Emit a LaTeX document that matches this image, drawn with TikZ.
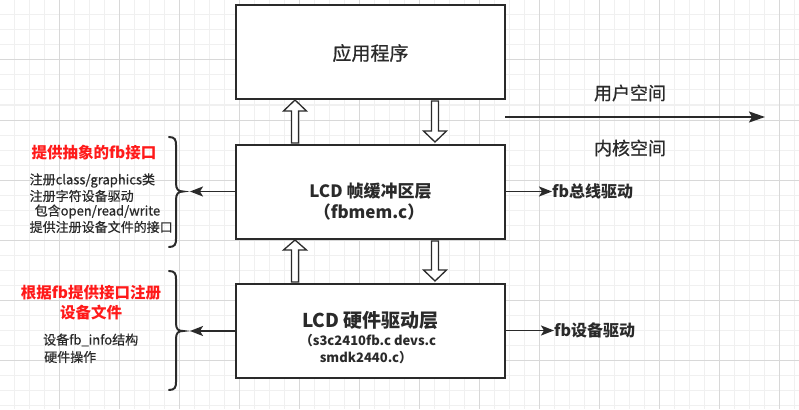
\documentclass[tikz,border=0pt]{standalone}
\usepackage{fontspec}
\setmainfont{Noto Sans CJK SC}
\newfontfamily\medfont{Noto Sans CJK SC}[FakeBold=0.6]
\usetikzlibrary{arrows.meta,calc}
\definecolor{ink}{HTML}{2A2A2A}
\definecolor{gridmin}{HTML}{F0F0F0}
\definecolor{gridmaj}{HTML}{D8D8D8}
\definecolor{redtxt}{HTML}{FF1A1A}
\newcommand\fs[1]{\fontsize{#1}{#1}\selectfont}
\begin{document}
\begin{tikzpicture}[x=1pt,y=-1pt,
  box/.style={draw=ink, line width=2pt, fill=white, minimum width=269pt, minimum height=94pt, inner sep=0pt},
  hollow/.style={draw=ink, line width=1.3pt, fill=white, line join=miter},
  link/.style={draw=ink, line width=1.8pt, -{Stealth[length=13pt,width=10pt,inset=3pt]}},
  brace/.style={draw=ink, line width=2pt, line cap=round},
  lbl/.style={inner sep=0pt, text=ink},
]
\useasboundingbox (0,0) rectangle (799,409);
\fill[white] (0,0) rectangle (799,409);
% grid
\foreach \i in {0,...,53} \draw[gridmin, line width=1pt] ({\i*15-0.5},0) -- ({\i*15-0.5},409);
\foreach \j in {0,...,27} \draw[gridmin, line width=1pt] (0,{\j*15}) -- (799,{\j*15});
\foreach \i in {1,...,13} \draw[gridmaj, line width=1pt] ({\i*60-0.5},0) -- ({\i*60-0.5},409);
\foreach \j in {1,...,6} \draw[gridmaj, line width=1pt] (0,{\j*60}) -- (799,{\j*60});

% boxes
\node[box] (app) at (370.5,52) {};
\node[box] (buf) at (370.5,192) {};
\node[box] (hw)  at (370.5,331) {};

% box texts
\node[lbl, font=\medfont\fs{19}] (appt) at (370.5,53) {应用程序};
\node[lbl, font=\fs{17}\bfseries] (buft1) at (370.5,191.5) {LCD 帧缓冲区层};
\node[lbl, font=\fs{17}\bfseries] (buft2) at (369,212) {（fbmem.c）};
\node[lbl, font=\fs{19}\bfseries] (hwt1) at (370.5,320) {LCD 硬件驱动层};
\node[lbl, font=\fs{13}\bfseries] (hwt2) at (368,341) {（s3c2410fb.c devs.c};
\node[lbl, font=\fs{13}\bfseries] (hwt3) at (366,357.5) {smdk2440.c）};

% hollow arrows between app and buf
\path (app.south) ++(-75.5,0) coordinate (u1t);
\path (buf.north) ++(-75.5,0) coordinate (u1b);
\draw[hollow] (u1t) -- ++(11.5,11) -- ++(-8,0) -- ($(u1b)+(3.5,-1)$) -- ++(-7,0) -- ($(u1t)+(-3.5,11)$) -- ++(-8,0) -- cycle;
\path (app.south) ++(64.5,0) coordinate (d1t);
\path (buf.north) ++(64.5,0) coordinate (d1b);
\draw[hollow] ($(d1t)+(-3.5,1)$) -- ++(7,0) -- ($(d1b)+(3.5,-13)$) -- ++(8,0) -- ($(d1b)+(0,-2)$) -- ($(d1b)+(-11.5,-13)$) -- ++(8,0) -- cycle;

% hollow arrows between buf and hw
\path (buf.south) ++(-75.5,0) coordinate (u2t);
\path (hw.north) ++(-75.5,0) coordinate (u2b);
\draw[hollow] (u2t) -- ++(11.5,10) -- ++(-8,0) -- ($(u2b)+(3.5,-1)$) -- ++(-7,0) -- ($(u2t)+(-3.5,10)$) -- ++(-8,0) -- cycle;
\path (buf.south) ++(64.5,0) coordinate (d2t);
\path (hw.north) ++(64.5,0) coordinate (d2b);
\draw[hollow] ($(d2t)+(-3.5,1)$) -- ++(7,0) -- ($(d2b)+(3.5,-13)$) -- ++(8,0) -- ($(d2b)+(0,-2)$) -- ($(d2b)+(-11.5,-13)$) -- ++(8,0) -- cycle;

% user / kernel space
\coordinate (ks) at (505,117);
\coordinate (ke) at (765,117);
\draw[draw=ink, line width=1.8pt, -{Stealth[length=16pt,width=11pt,inset=3pt]}] (ks) -- (ke);
\node[lbl, font=\medfont\fs{18}] (user) at (630,93) {用户空间};
\node[lbl, font=\medfont\fs{18}] (kern) at (630,148) {内核空间};

% right labels
\node[lbl, font=\fs{16}\bfseries, anchor=west] (fbbus) at (552,191.5) {fb总线驱动};
\node[lbl, font=\fs{16}\bfseries, anchor=west] (fbdev) at (554,330.5) {fb设备驱动};
\draw[link] (buf.east |- fbbus.west) -- (fbbus.west);
\draw[link] (hw.east |- fbdev.west) -- (fbdev.west);

% braces
\coordinate (b1) at (190,191.5);
\coordinate (b2) at (190,331);
\draw[brace] (169,137) .. controls (175,137) and (176,140) .. (176,145) -- (176,183)
  .. controls (176,189) and (178,191.5) .. (183,191.5)
  .. controls (178,191.5) and (176,194) .. (176,200) -- (176,239)
  .. controls (176,244) and (175,247) .. (169,247);
\draw[brace] (169,271) .. controls (175,271) and (176,274) .. (176,279) -- (176,323)
  .. controls (176,329) and (178,331) .. (183,331)
  .. controls (178,331) and (176,333) .. (176,339) -- (176,382)
  .. controls (176,387) and (175,390) .. (169,390);
\draw[link] (buf.west |- b1) -- (b1);
\draw[link] (hw.west |- b2) -- (b2);

% left text block 1
\node[lbl, text=redtxt, font=\fs{15.5}\bfseries] (r1) at (94,153) {提供抽象的fb接口};
\node[lbl, font=\medfont\fs{13}, anchor=west] (l1a) at (29.5,180.5) {注册class/graphics类};
\node[lbl, font=\medfont\fs{13}, anchor=west] (l1b) at (29.5,196) {注册字符设备驱动};
\node[lbl, font=\medfont\fs{13}, anchor=west] (l1c) at (34.5,211.5) {包含open/read/write};
\node[lbl, font=\medfont\fs{13}, anchor=west] (l1d) at (29.5,227) {提供注册设备文件的接口};

% left text block 2
\node[lbl, text=redtxt, font=\fs{15.5}\bfseries] (r2a) at (91,293) {根据fb提供接口注册};
\node[lbl, text=redtxt, font=\fs{15.5}\bfseries] (r2b) at (91,313) {设备文件};
\node[lbl, font=\medfont\fs{13}, anchor=west] (l2a) at (43,340) {设备fb\_info结构};
\node[lbl, font=\medfont\fs{13}, anchor=west] (l2b) at (44,357) {硬件操作};
\end{tikzpicture}
\end{document}
